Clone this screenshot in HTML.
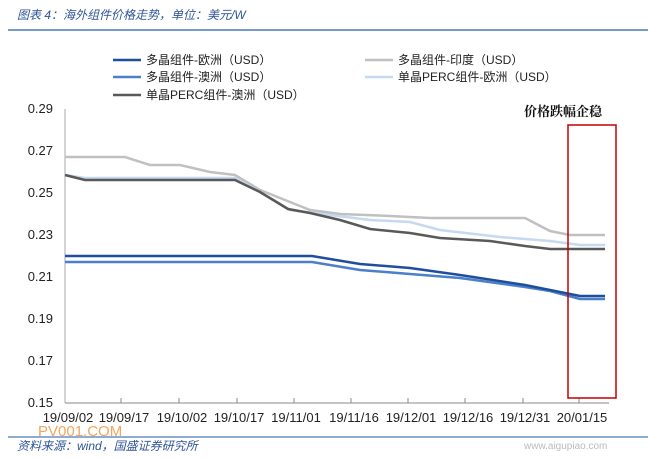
<!DOCTYPE html><html><head><meta charset="utf-8"><style>
body{margin:0;background:#fff;width:648px;height:454px;overflow:hidden;font-family:"Liberation Sans","Noto Sans CJK SC",sans-serif}
</style></head><body>
<svg width="648" height="454" xmlns="http://www.w3.org/2000/svg" font-family="Liberation Sans, Noto Sans CJK SC, sans-serif">
<text x="17" y="19" font-size="12" font-style="italic" fill="#2f5597">图表 4：海外组件价格走势，单位：美元/W</text>
<line x1="8" y1="30" x2="648" y2="30" stroke="#4a7ab8" stroke-width="1.5"/>
<g font-size="12" fill="#222">
<line x1="113" y1="60" x2="141" y2="60" stroke="#1f4e9c" stroke-width="2.5"/><text x="146" y="64">多晶组件-欧洲（USD）</text>
<line x1="113" y1="77" x2="141" y2="77" stroke="#4a7fc9" stroke-width="2.5"/><text x="146" y="81">多晶组件-澳洲（USD）</text>
<line x1="113" y1="95" x2="141" y2="95" stroke="#595959" stroke-width="2.5"/><text x="146" y="99">单晶PERC组件-澳洲（USD）</text>
<line x1="365" y1="60" x2="393" y2="60" stroke="#c0c0c0" stroke-width="2.5"/><text x="398" y="64">多晶组件-印度（USD）</text>
<line x1="365" y1="77" x2="393" y2="77" stroke="#c5d9f1" stroke-width="2.5"/><text x="398" y="81">单晶PERC组件-欧洲（USD）</text>
</g>
<g font-size="13" fill="#222" text-anchor="end">
<text x="53" y="113">0.29</text><text x="53" y="155">0.27</text><text x="53" y="197">0.25</text><text x="53" y="239">0.23</text><text x="53" y="281">0.21</text><text x="53" y="323">0.19</text><text x="53" y="365">0.17</text><text x="53" y="407">0.15</text>
</g>
<line x1="65" y1="109" x2="65" y2="403" stroke="#aaa"/>
<line x1="65" y1="403" x2="609" y2="403" stroke="#888"/>
<g stroke="#888">
<line x1="121" y1="403" x2="121" y2="398"/><line x1="179" y1="403" x2="179" y2="398"/><line x1="237" y1="403" x2="237" y2="398"/><line x1="294" y1="403" x2="294" y2="398"/><line x1="351" y1="403" x2="351" y2="398"/><line x1="408" y1="403" x2="408" y2="398"/><line x1="465" y1="403" x2="465" y2="398"/><line x1="523" y1="403" x2="523" y2="398"/><line x1="579" y1="403" x2="579" y2="398"/>
</g>
<g font-size="13" fill="#222" text-anchor="middle">
<text x="68" y="422">19/09/02</text><text x="124" y="422">19/09/17</text><text x="182" y="422">19/10/02</text><text x="239" y="422">19/10/17</text><text x="296" y="422">19/11/01</text><text x="354" y="422">19/11/16</text><text x="411" y="422">19/12/01</text><text x="468" y="422">19/12/16</text><text x="525" y="422">19/12/31</text><text x="582" y="422">20/01/15</text>
</g>
<g fill="none" stroke-width="2.5">
<polyline stroke="#c0c0c0" points="65,157 125,157 150,165 180,165 210,172 235,175 260,190 285,200 310,210 340,214 390,216 430,218 525,218 550,231 570,235 605,235"/>
<polyline stroke="#c5d9f1" points="65,175 85,178 235,178 260,192 290,210 330,215 370,220 410,222 440,230 500,237 550,241 580,245 605,245"/>
<polyline stroke="#595959" points="65,175 85,180 235,180 260,192 288,209 310,213 340,220 370,229 410,233 440,238 490,241 525,246 550,249 605,249"/>
<polyline stroke="#4a7fc9" points="65,262 312,262 360,270 410,274 460,278 525,287 550,291 580,299 605,299"/>
<polyline stroke="#1f4e9c" points="65,256 312,256 360,264 410,268 460,275 525,285 580,296 605,296"/>
</g>
<rect x="568" y="125" width="48" height="273" fill="none" stroke="#c00000" stroke-width="1.5"/>
<text x="524" y="116" font-size="13" font-weight="bold" fill="#111" font-family="Noto Serif CJK SC, serif">价格跌幅企稳</text>
<text x="38" y="436" font-size="15" fill="#f4a460">PV001.COM</text>
<line x1="8" y1="437" x2="648" y2="437" stroke="#4a7ab8" stroke-width="1.2"/>
<text x="17" y="450" font-size="12" font-style="italic" fill="#2f5597">资料来源：wind，国盛证券研究所</text>
<text x="524" y="449" font-size="10" fill="#bbb">www.aigupiao.com</text>
</svg>
</body></html>
